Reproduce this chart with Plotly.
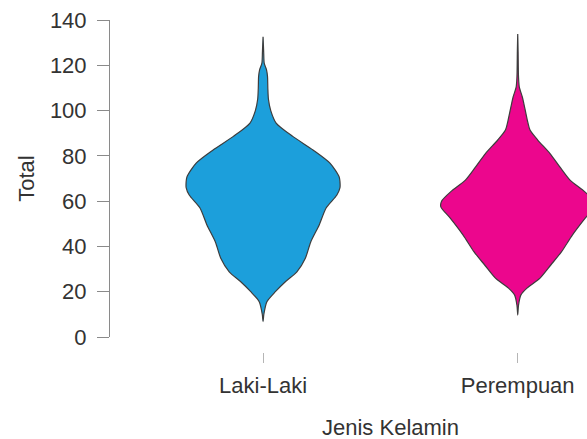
import plotly.graph_objects as go

# Categories and colours
categories = ["Laki-Laki", "Perempuan"]
colors = ["#1c9fdb", "#ec068d"]

# Density profiles (relative half-width, 0..1) at each value of Total
laki_total = [6.8, 10, 15.6, 20, 24.4, 28.8, 34.8, 42, 49.5, 57, 62.7, 66, 68.6,
              70.7, 76.8, 82.6, 88.5, 94.5, 100, 105, 110, 115, 118, 121, 126, 132.6]
laki_density = [0, 0.01, 0.05, 0.16, 0.29, 0.44, 0.55, 0.62, 0.73, 0.82, 0.96, 1.0, 1.0,
                0.99, 0.87, 0.65, 0.39, 0.17, 0.10, 0.07, 0.062, 0.058, 0.045, 0.015, 0.008, 0]

perempuan_total = [9.7, 14, 18.5, 21.6, 26, 31.8, 37.7, 45, 52.6, 57.5, 60, 64.2, 69.3,
                   75, 81, 87, 91.4, 95, 99, 103, 106, 110.5, 115, 120, 126, 133.8]
perempuan_density = [0, 0.01, 0.04, 0.12, 0.29, 0.43, 0.57, 0.71, 0.88, 1.0, 0.99, 0.87, 0.68,
                     0.55, 0.42, 0.26, 0.16, 0.13, 0.105, 0.08, 0.06, 0.02, 0.01, 0.007, 0.005, 0]

y_ticks = [0, 20, 40, 60, 80, 100, 120, 140]

half_width = 0.302  # maximum half-width of a violin, in x units
text_color = "#333333"
font_family = "Liberation Sans, Arial, sans-serif"
font_size = 22

fig = go.Figure()

profiles = [(laki_total, laki_density), (perempuan_total, perempuan_density)]
for i, ((vals, dens), name, col) in enumerate(zip(profiles, categories, colors)):
    center = i + 1
    xs = [center + d * half_width for d in dens] + [center - d * half_width for d in reversed(dens)]
    ys = list(vals) + list(reversed(vals))
    fig.add_trace(go.Scatter(
        x=xs, y=ys, mode="lines", fill="toself", fillcolor=col,
        line=dict(color="#3d3d3d", width=1.2, shape="spline", smoothing=0.7),
        name=name, showlegend=False, hoverinfo="skip",
    ))

# x-axis title, centred between the two groups
fig.add_annotation(
    x=1.5, xref="x", y=-0.226, yref="paper", text="Jenis Kelamin",
    showarrow=False, yanchor="middle",
    font=dict(size=font_size, color=text_color, family=font_family),
)

fig.update_layout(
    width=587, height=439,
    margin=dict(l=110, r=0, t=20, b=87),
    paper_bgcolor="white", plot_bgcolor="white",
    font=dict(family=font_family, size=font_size, color=text_color),
    xaxis=dict(
        range=[0.399, 2.272], anchor="free", position=0,
        tickvals=[1, 2], ticktext=categories,
        showline=False, showgrid=False, zeroline=False,
        ticks="outside", ticklen=10, tickwidth=1, tickcolor="#b5b5b5",
        ticklabelstandoff=4,
        tickfont=dict(size=font_size, color=text_color),
    ),
    yaxis=dict(
        range=[0, 140], domain=[15 / 332, 1],
        tickvals=y_ticks,
        showline=True, linecolor="#8a8a8a", linewidth=1,
        showgrid=False, zeroline=False,
        ticks="outside", ticklen=12, tickwidth=1, tickcolor="#8a8a8a",
        ticklabelstandoff=6,
        tickfont=dict(size=font_size, color=text_color),
        title=dict(text="Total", font=dict(size=font_size, color=text_color), standoff=9),
    ),
)

fig.write_html("out.html")
